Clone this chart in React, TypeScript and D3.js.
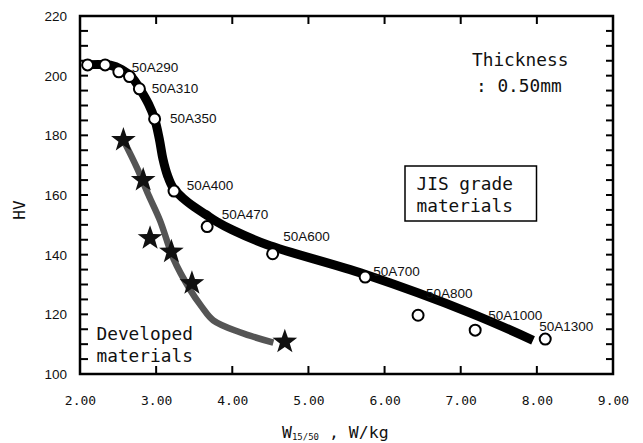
import React from "react";
import * as d3 from "d3";

const W = 643, H = 443;
const M = { left: 80, right: 613, top: 16, bottom: 374 };

// JIS grade materials (open circles)
const jisW = [2.1, 2.33, 2.51, 2.65, 2.78, 2.98, 3.235, 3.67, 4.53, 5.745, 6.44, 7.19, 8.11];
const jisHV = [203.6, 203.6, 201.3, 199.7, 195.6, 185.5, 161.3, 149.4, 140.3, 132.5, 119.7, 114.7, 111.7];
// labels and their anchor positions (data units)
const jisNames = ["50A290", "50A310", "50A350", "50A400", "50A470", "50A600", "50A700", "50A800", "50A1000", "50A1300"];
const labelW = [2.679, 2.942, 3.182, 3.401, 3.861, 4.67, 5.852, 6.544, 7.362, 8.032];
const labelHV = [201.33, 194.09, 184.03, 161.67, 151.85, 144.5, 132.84, 125.36, 118.09, 114.4];

// JIS trend curve
const jisCurveW = [2.12, 2.4, 2.55, 2.68, 2.8, 2.9, 2.98, 3.04, 3.09, 3.15, 3.22, 3.35, 3.5, 3.65, 3.8, 4.0, 4.45, 5.74, 7.12, 7.95];
const jisCurveHV = [203.7, 203.5, 202, 199.5, 195, 190.5, 185.5, 179, 172, 166.5, 162.5, 159, 156, 153.5, 151, 148.3, 143.4, 133.4, 120.5, 111.3];

// Developed materials (stars)
const devW = [2.57, 2.83, 2.92, 3.2, 3.47, 4.69];
const devHV = [178.4, 165, 145.5, 141, 130.4, 110.8];
const devCurveW = [2.57, 2.75, 2.9, 3.05, 3.23, 3.44, 3.6, 3.75, 4.1, 4.54];
const devCurveHV = [178.4, 169, 160, 151.5, 138.5, 128.5, 122.5, 118, 114, 110.5];

const xTicks = [2, 3, 4, 5, 6, 7, 8, 9];
const yTicks = [100, 120, 140, 160, 180, 200, 220];

const x = d3.scaleLinear().domain([2, 9]).range([M.left, M.right]);
const y = d3.scaleLinear().domain([100, 220]).range([M.bottom, M.top]);

const mono = "'DejaVu Sans Mono', monospace";
const sans = "'Liberation Sans', Arial, sans-serif";

function starPath(cx: number, cy: number, ro: number, ri: number) {
  const pts: string[] = [];
  for (let i = 0; i < 10; i++) {
    const r = i % 2 === 0 ? ro : ri;
    const a = -Math.PI / 2 + (i * Math.PI) / 5;
    pts.push(`${cx + r * Math.cos(a)},${cy + r * Math.sin(a)}`);
  }
  return "M" + pts.join("L") + "Z";
}

export default function App() {
  const line = d3
    .line<[number, number]>()
    .x((d) => x(d[0]))
    .y((d) => y(d[1]))
    .curve(d3.curveCatmullRom.alpha(0.5));
  const jisPath = line(jisCurveW.map((w, i) => [w, jisCurveHV[i]]));
  const devPath = line(devCurveW.map((w, i) => [w, devCurveHV[i]]));
  const minorY = d3.range(100, 221, 5);

  return (
    <svg width={W} height={H} style={{ position: "absolute", left: 0, top: 0, background: "#fff" }}>
      {/* ticks */}
      {minorY.map((v) => (
        <g key={"yt" + v}>
          <line x1={M.left} x2={M.left + 8} y1={y(v)} y2={y(v)} stroke="#000" strokeWidth={2} />
          <line x1={M.right} x2={M.right - 7} y1={y(v)} y2={y(v)} stroke="#000" strokeWidth={2} />
        </g>
      ))}
      {xTicks.map((v) => (
        <g key={"xt" + v}>
          <line x1={x(v)} x2={x(v)} y1={M.bottom} y2={M.bottom - 8} stroke="#000" strokeWidth={2} />
          <line x1={x(v)} x2={x(v)} y1={M.top} y2={M.top + 8} stroke="#000" strokeWidth={2} />
          <text x={x(v) + 0.5} y={405} textAnchor="middle" fontFamily={mono} fontSize={13} fill="#111">
            {v.toFixed(2)}
          </text>
        </g>
      ))}
      {yTicks.map((v) => (
        <text key={"yl" + v} x={67} y={y(v) + 5} textAnchor="end" fontFamily={sans} fontSize={13.5} fill="#111">
          {v}
        </text>
      ))}
      <rect x={M.left} y={M.top} width={M.right - M.left} height={M.bottom - M.top} fill="none" stroke="#000" strokeWidth={2.5} />

      {/* curves */}
      <path d={devPath || ""} fill="none" stroke="#555" strokeWidth={6.5} />
      <path d={jisPath || ""} fill="none" stroke="#000" strokeWidth={9} />

      {/* circles */}
      {jisW.map((w, i) => (
        <circle key={"c" + i} cx={x(w)} cy={y(jisHV[i])} r={5.5} fill="#fff" stroke="#000" strokeWidth={2} />
      ))}
      {/* stars */}
      {devW.map((w, i) => (
        <path key={"s" + i} d={starPath(x(w), y(devHV[i]), 13, 5.2)} fill="#111" />
      ))}

      {/* labels */}
      {jisNames.map((n, i) => (
        <text key={n} x={x(labelW[i])} y={y(labelHV[i])} fontFamily={sans} fontSize={13.5} fill="#111">
          {n}
        </text>
      ))}

      <text x={472} y={66} fontFamily={mono} fontSize={17.8} fill="#111">Thickness</text>
      <text x={476} y={91.5} fontFamily={mono} fontSize={17.8} fill="#111">: 0.50mm</text>

      <rect x={405} y={166} width={131.5} height={55} fill="#fff" stroke="#000" strokeWidth={1.5} />
      <text x={416.5} y={190} fontFamily={mono} fontSize={17.8} fill="#111">JIS grade</text>
      <text x={416.5} y={212} fontFamily={mono} fontSize={17.8} fill="#111">materials</text>

      <text x={96.5} y={339.5} fontFamily={mono} fontSize={17.8} fill="#111">Developed</text>
      <text x={96.5} y={361.5} fontFamily={mono} fontSize={17.8} fill="#111">materials</text>

      {/* axis titles */}
      <text transform="translate(25,210) rotate(-90)" textAnchor="middle" fontFamily={mono} fontSize={16} fill="#111">HV</text>
      <text x={282} y={437.5} fontFamily={mono} fontSize={16.5} fill="#111">
        W<tspan fontSize={9} dy={2}>15/50</tspan><tspan dy={-2}> , W/kg</tspan>
      </text>
    </svg>
  );
}
